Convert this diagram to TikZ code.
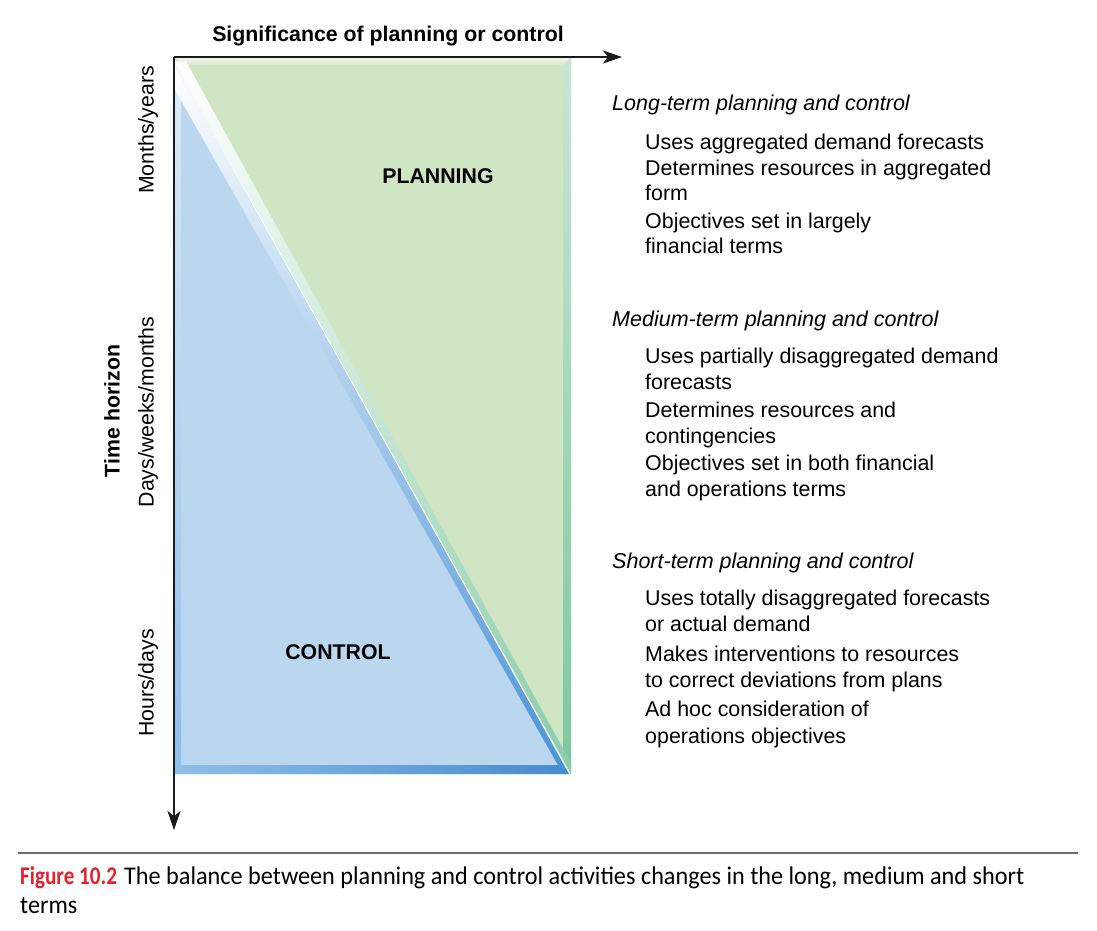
\documentclass[tikz,border=0pt]{standalone}
\usepackage{fontspec}
\setmainfont{Liberation Sans}
\newfontfamily\capfont{Carlito}
\usetikzlibrary{arrows.meta}
\definecolor{bluefill}{HTML}{BBD7F0}
\definecolor{bluedark}{HTML}{4A93D6}
\definecolor{bluemid}{HTML}{8FBEE8}
\definecolor{greenfill}{HTML}{CFE5C4}
\definecolor{greendark}{HTML}{7CC79F}
\definecolor{greenlight}{HTML}{C9E6D6}
\definecolor{capred}{HTML}{E4202B}
\definecolor{axisgray}{HTML}{1A1A1A}
\definecolor{rulegray}{HTML}{6D6D6D}
\begin{document}
\begin{tikzpicture}[x=1pt,y=-1pt,
  txt/.style={anchor=base west, inner sep=0pt, font=\fontsize{21.4}{25.5}\selectfont},
  head/.style={txt, font=\fontsize{21.5}{25.5}\selectfont\itshape},
  lab/.style={inner sep=0pt, font=\fontsize{21.3}{25.5}\selectfont\bfseries},
  side/.style={inner sep=0pt, rotate=90, font=\fontsize{21.3}{25.5}\selectfont},
  axisline/.style={draw=axisgray, line width=1.8pt, -{Stealth[length=19pt,width=13pt,inset=5pt]}},
  captxt/.style={anchor=base west, inner sep=0pt, font=\capfont\fontsize{25.5}{30}\selectfont}
]
\useasboundingbox (0,0) rectangle (1097,930);

% ---- control triangle ----
\fill[bluefill] (174,64) -- (174,774) -- (569,774) -- cycle;
\shade[top color=white!50!bluefill, bottom color=bluemid] (174,64) -- (181,80) -- (181,767) -- (174,774) -- cycle;
\shade[top color=white, middle color=bluefill!60!white, bottom color=bluedark] (174,64) -- (569,774) -- (563,774) -- (174,88) -- cycle;
\shade[left color=bluemid, right color=bluedark!95!black] (174,765) -- (558,765) -- (569,774) -- (174,774) -- cycle;

% ---- planning triangle ----
\fill[greenfill] (174,57) -- (571,57) -- (571,773.9) -- (174,61.3) -- cycle;
\shade[top color=white!75!greenfill, bottom color=greenfill!90!white] (174,57) -- (571,57) -- (563,65) -- (186,65) -- cycle;
\shade[top color=greenlight, bottom color=greendark] (563,65) -- (571,57) -- (571,773.9) -- (563,748.8) -- cycle;
\shade[top color=white, middle color=greenfill!75!white, bottom color=greendark!90!white] (174,61.3) -- (571,773.9) -- (571,763.1) -- (186,61.3) -- cycle;

% ---- axes ----
\coordinate (O) at (174,57);
\coordinate (xend) at (622,57);
\coordinate (yend) at (174,830);
\draw[axisline] (O) -- (xend);
\draw[axisline] (O) -- (yend);

\node[lab] (title) at (388,36) {Significance of planning or control};
\node[lab] (planning) at (438,176) {PLANNING};
\node[lab] (control) at (338,652) {CONTROL};

\node[side] (months) at (148,130) {Months/years};
\node[side] (days) at (148,412) {Days/weeks/months};
\node[side] (hours) at (148,683) {Hours/days};
\node[side, font=\fontsize{21.3}{25.5}\selectfont\bfseries] (horizon) at (112,411) {Time horizon};

% ---- right-hand text ----
\node[head] (h1) at (612,110) {Long-term planning and control};
\node[txt] (a1) at (645,149) {Uses aggregated demand forecasts};
\node[txt] (a2) at (645,175) {Determines resources in aggregated};
\node[txt] (a3) at (645,200) {form};
\node[txt] (a4) at (645,228) {Objectives set in largely};
\node[txt] (a5) at (645,253) {financial terms};

\node[head] (h2) at (612,326) {Medium-term planning and control};
\node[txt] (b1) at (645,363) {Uses partially disaggregated demand};
\node[txt] (b2) at (645,389) {forecasts};
\node[txt] (b3) at (645,417) {Determines resources and};
\node[txt] (b4) at (645,443) {contingencies};
\node[txt] (b5) at (645,470) {Objectives set in both financial};
\node[txt] (b6) at (645,496) {and operations terms};

\node[head] (h3) at (612,568) {Short-term planning and control};
\node[txt] (c1) at (645,605) {Uses totally disaggregated forecasts};
\node[txt] (c2) at (645,631) {or actual demand};
\node[txt] (c3) at (645,661) {Makes interventions to resources};
\node[txt] (c4) at (645,687) {to correct deviations from plans};
\node[txt] (c5) at (645,716) {Ad hoc consideration of};
\node[txt] (c6) at (645,743) {operations objectives};

% ---- caption ----
\coordinate (r1) at (18,853);
\coordinate (r2) at (1078,853);
\draw[rulegray, line width=1.6pt] (r1) -- (r2);
\node[captxt, xscale=0.83, text=capred, font=\capfont\fontsize{25.5}{30}\selectfont\bfseries] (fig) at (20,884) {Figure 10.2};
\node[captxt, xscale=0.95] (captext) at (124,884) {The balance between planning and control activities changes in the long, medium and short};
\node[captxt, xscale=0.95] (captext2) at (20,913) {terms};
\end{tikzpicture}
\end{document}
